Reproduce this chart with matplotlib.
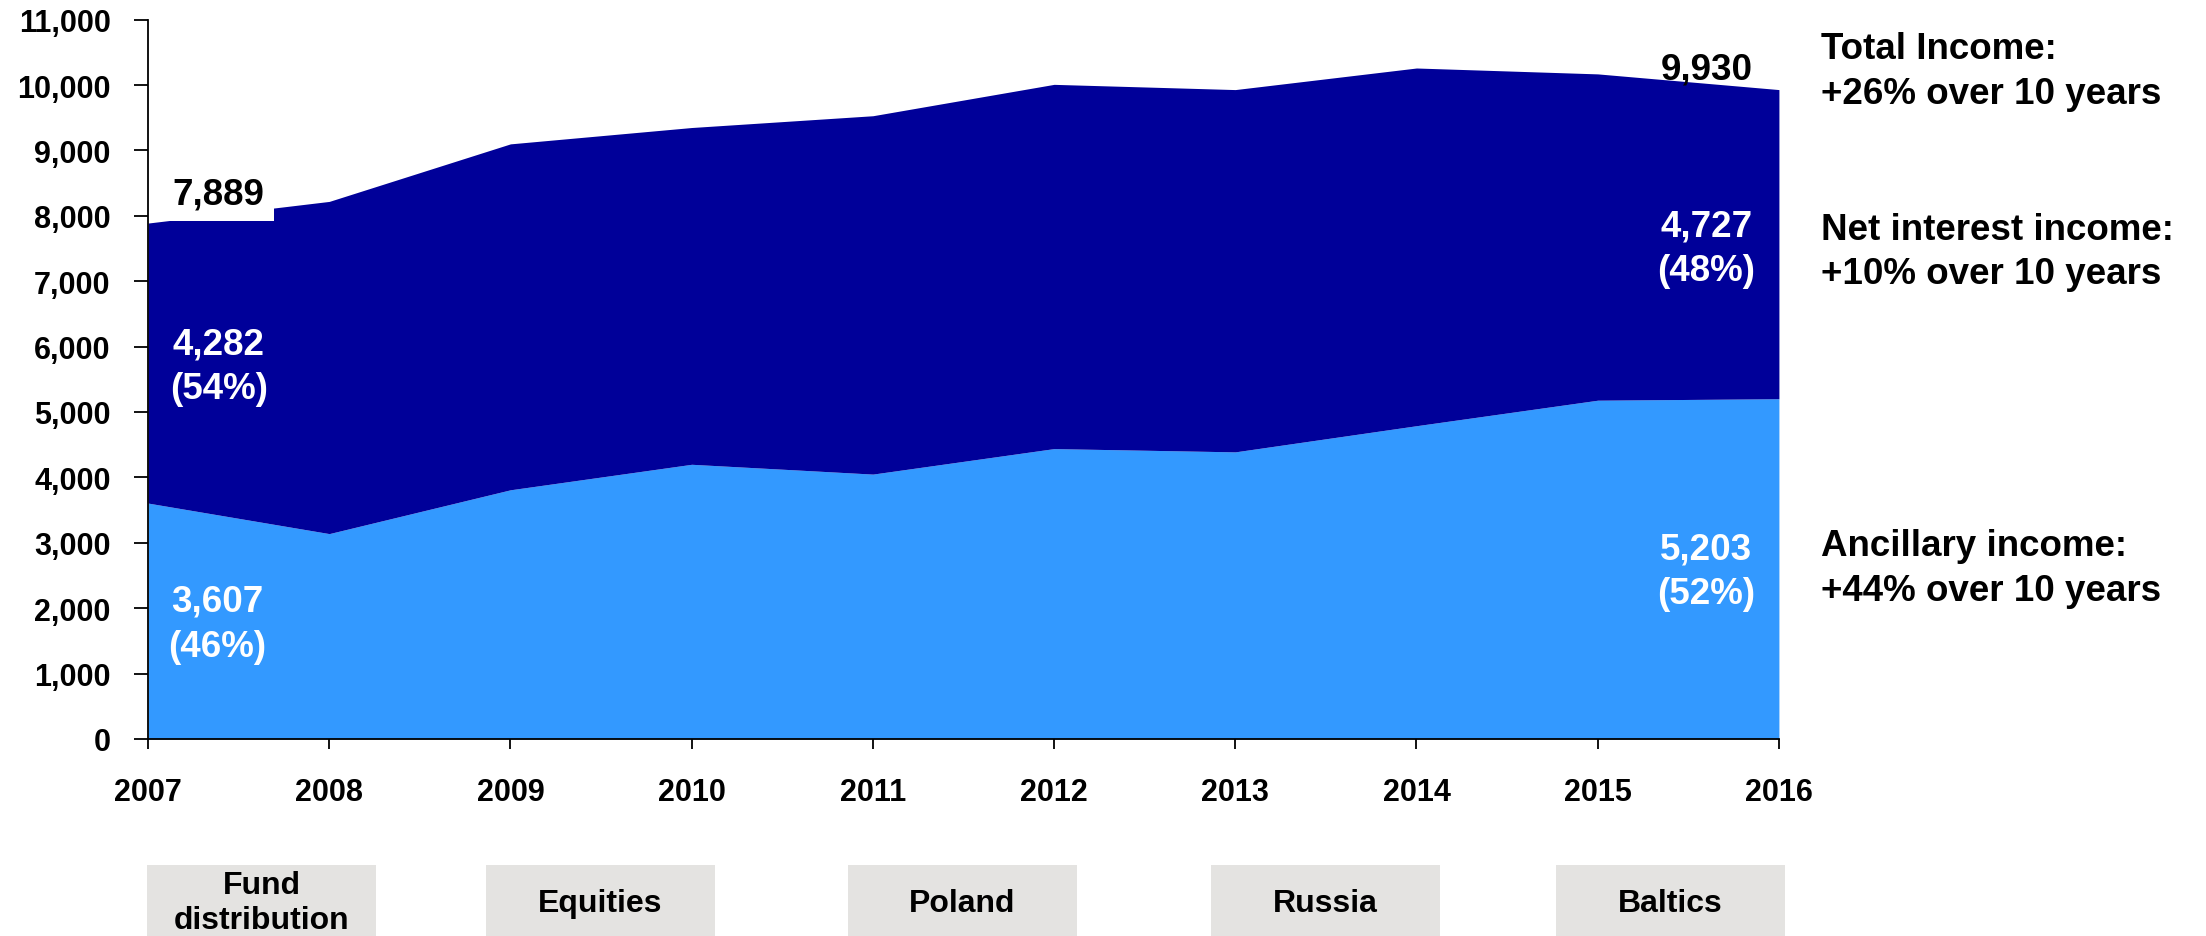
import matplotlib
matplotlib.use("Agg")
import matplotlib.pyplot as plt
from matplotlib.patches import Rectangle
from matplotlib.ticker import FuncFormatter

plt.rcParams["font.family"] = ["Liberation Sans", "DejaVu Sans"]
plt.rcParams["font.weight"] = "bold"

years = [2007, 2008, 2009, 2010, 2011, 2012, 2013, 2014, 2015, 2016]
ancillary = [3607, 3140, 3810, 4200, 4050, 4440, 4390, 4790, 5180, 5203]
net_interest = [4282, 5080, 5290, 5150, 5480, 5570, 5540, 5470, 4990, 4727]
total = [a + n for a, n in zip(ancillary, net_interest)]

acquisitions = ["Fund\ndistribution", "Equities", "Poland", "Russia", "Baltics"]
growth_notes = [
    "Total Income:\n+26% over 10 years",
    "Net interest income:\n+10% over 10 years",
    "Ancillary income:\n+44% over 10 years",
]

DARK = "#000099"
LIGHT = "#3399FF"
BOX = "#E4E3E1"

fig = plt.figure(figsize=(22.06, 9.37), dpi=100)
ax = fig.add_axes([0.0671, 0.2103, 0.8064 - 0.0671, 0.978 - 0.2103])

ax.stackplot(years, ancillary, net_interest, colors=[LIGHT, DARK],
             linewidth=0, edgecolor="face")

ax.set_xlim(years[0], years[-1])
ax.set_ylim(0, 11000)
ax.set_xticks(years)
ax.set_yticks(range(0, 11001, 1000))
ax.yaxis.set_major_formatter(FuncFormatter(lambda v, _: f"{int(v):,}"))

for side in ("top", "right"):
    ax.spines[side].set_visible(False)
for side in ("left", "bottom"):
    ax.spines[side].set_linewidth(1.3)
    ax.spines[side].set_color("black")

ax.tick_params(axis="y", length=10, width=1.3, pad=17, labelsize=22)
ax.tick_params(axis="x", length=7, width=1.3, pad=20.5, labelsize=22)

# start / end labels
n0, n1 = net_interest[0], net_interest[-1]
a0, a1 = ancillary[0], ancillary[-1]
t0, t1 = total[0], total[-1]
lab_kw = dict(ha="center", va="center", fontsize=26.5, fontweight="bold",
              linespacing=1.36)

ax.text(2007.39, 8330, f"{t0:,}", color="black",
        bbox=dict(facecolor="white", edgecolor="none", pad=7), **lab_kw)
ax.text(2007.39, 5700, f"{n0:,}\n({round(100 * n0 / t0)}%)", color="white", **lab_kw)
ax.text(2007.38, 1760, f"{a0:,}\n({round(100 * a0 / t0)}%)", color="white", **lab_kw)

ax.text(2015.6, 10250, f"{t1:,}", color="black", **lab_kw)
ax.text(2015.6, 7500, f"{n1:,}\n({round(100 * n1 / t1)}%)", color="white", **lab_kw)
ax.text(2015.6, 2560, f"{a1:,}\n({round(100 * a1 / t1)}%)", color="white", **lab_kw)

# growth notes on the right
for note, y in zip(growth_notes, [0.9235, 0.7305, 0.3925]):
    fig.text(0.8255, y, note, ha="left", va="center", fontsize=26.5,
             fontweight="bold", linespacing=1.36)

# acquisition boxes under the time axis
box_left = [0.0666, 0.2203, 0.3844, 0.5490, 0.7053]
box_w, box_h = 0.1038, 0.0758
for name, x0 in zip(acquisitions, box_left):
    fig.patches.append(Rectangle((x0, 0), box_w, box_h, transform=fig.transFigure,
                                 facecolor=BOX, edgecolor="none"))
    fig.text(x0 + box_w / 2, 0.0355, name, ha="center", va="center",
             fontsize=23, fontweight="bold", linespacing=1.2)

fig.savefig("out.png", dpi=100)
